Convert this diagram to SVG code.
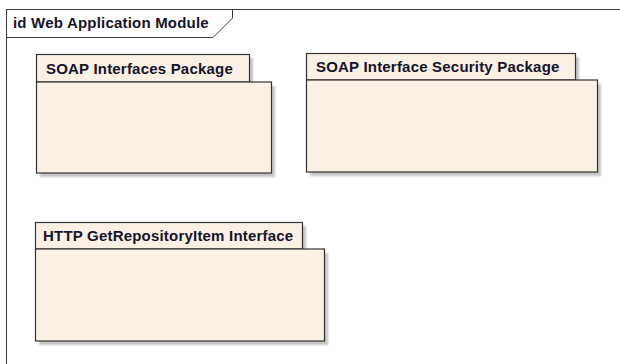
<svg xmlns="http://www.w3.org/2000/svg" width="620" height="364" viewBox="0 0 620 364">
  <style>
    .frame { fill: none; stroke: #3c3c3c; stroke-width: 1; }
    .tabbg { fill: #ffffff; stroke: #3c3c3c; stroke-width: 1; }
    .pkg { fill: #faf0e4; stroke: #333333; stroke-width: 1.2; }
    .shadow { fill: #c4c4c4; }
    .lbl { font-family: "Liberation Sans", Arial, sans-serif; font-weight: bold; font-size: 15px; letter-spacing: 0.2px; fill: #14142a; }
  </style>
  <defs>
    <filter id="soft" x="-10%" y="-10%" width="120%" height="120%">
      <feGaussianBlur stdDeviation="0.8"/>
    </filter>
  </defs>
  <rect width="620" height="364" fill="#ffffff"/>

  <!-- diagram frame -->
  <g id="frame">
    <path class="tabbg" d="M6.5,9.5 H232.5 V18 L213,37.5 H6.5 Z"/>
    <path class="frame" d="M6.5,364 V9.5 H620"/>
    <text class="lbl" x="13" y="28">id Web Application Module</text>
  </g>

  <!-- package: SOAP Interfaces Package -->
  <g id="pkg-soap-interfaces">
    <g class="shadow" filter="url(#soft)">
      <rect x="40" y="58" width="213" height="28"/>
      <rect x="40" y="86" width="235" height="91"/>
    </g>
    <rect class="pkg" x="36.5" y="54.5" width="213" height="27.5"/>
    <rect class="pkg" x="36.5" y="82" width="235" height="91"/>
    <text class="lbl" x="46" y="73.5">SOAP Interfaces Package</text>
  </g>

  <!-- package: SOAP Interface Security Package -->
  <g id="pkg-soap-security">
    <g class="shadow" filter="url(#soft)">
      <rect x="310" y="57" width="269" height="28"/>
      <rect x="310" y="84" width="291" height="92"/>
    </g>
    <rect class="pkg" x="306.5" y="53.5" width="269" height="26.5"/>
    <rect class="pkg" x="306.5" y="80" width="291" height="92"/>
    <text class="lbl" x="316" y="72">SOAP Interface Security Package</text>
  </g>

  <!-- package: HTTP GetRepositoryItem Interface -->
  <g id="pkg-http-getrepositoryitem">
    <g class="shadow" filter="url(#soft)">
      <rect x="39" y="226" width="267" height="28"/>
      <rect x="39" y="253" width="289" height="92"/>
    </g>
    <rect class="pkg" x="35.5" y="222.5" width="267" height="26.5"/>
    <rect class="pkg" x="35.5" y="249" width="289" height="92"/>
    <text class="lbl" x="43" y="241">HTTP GetRepositoryItem Interface</text>
  </g>

  <g id="connectors"/>
</svg>
